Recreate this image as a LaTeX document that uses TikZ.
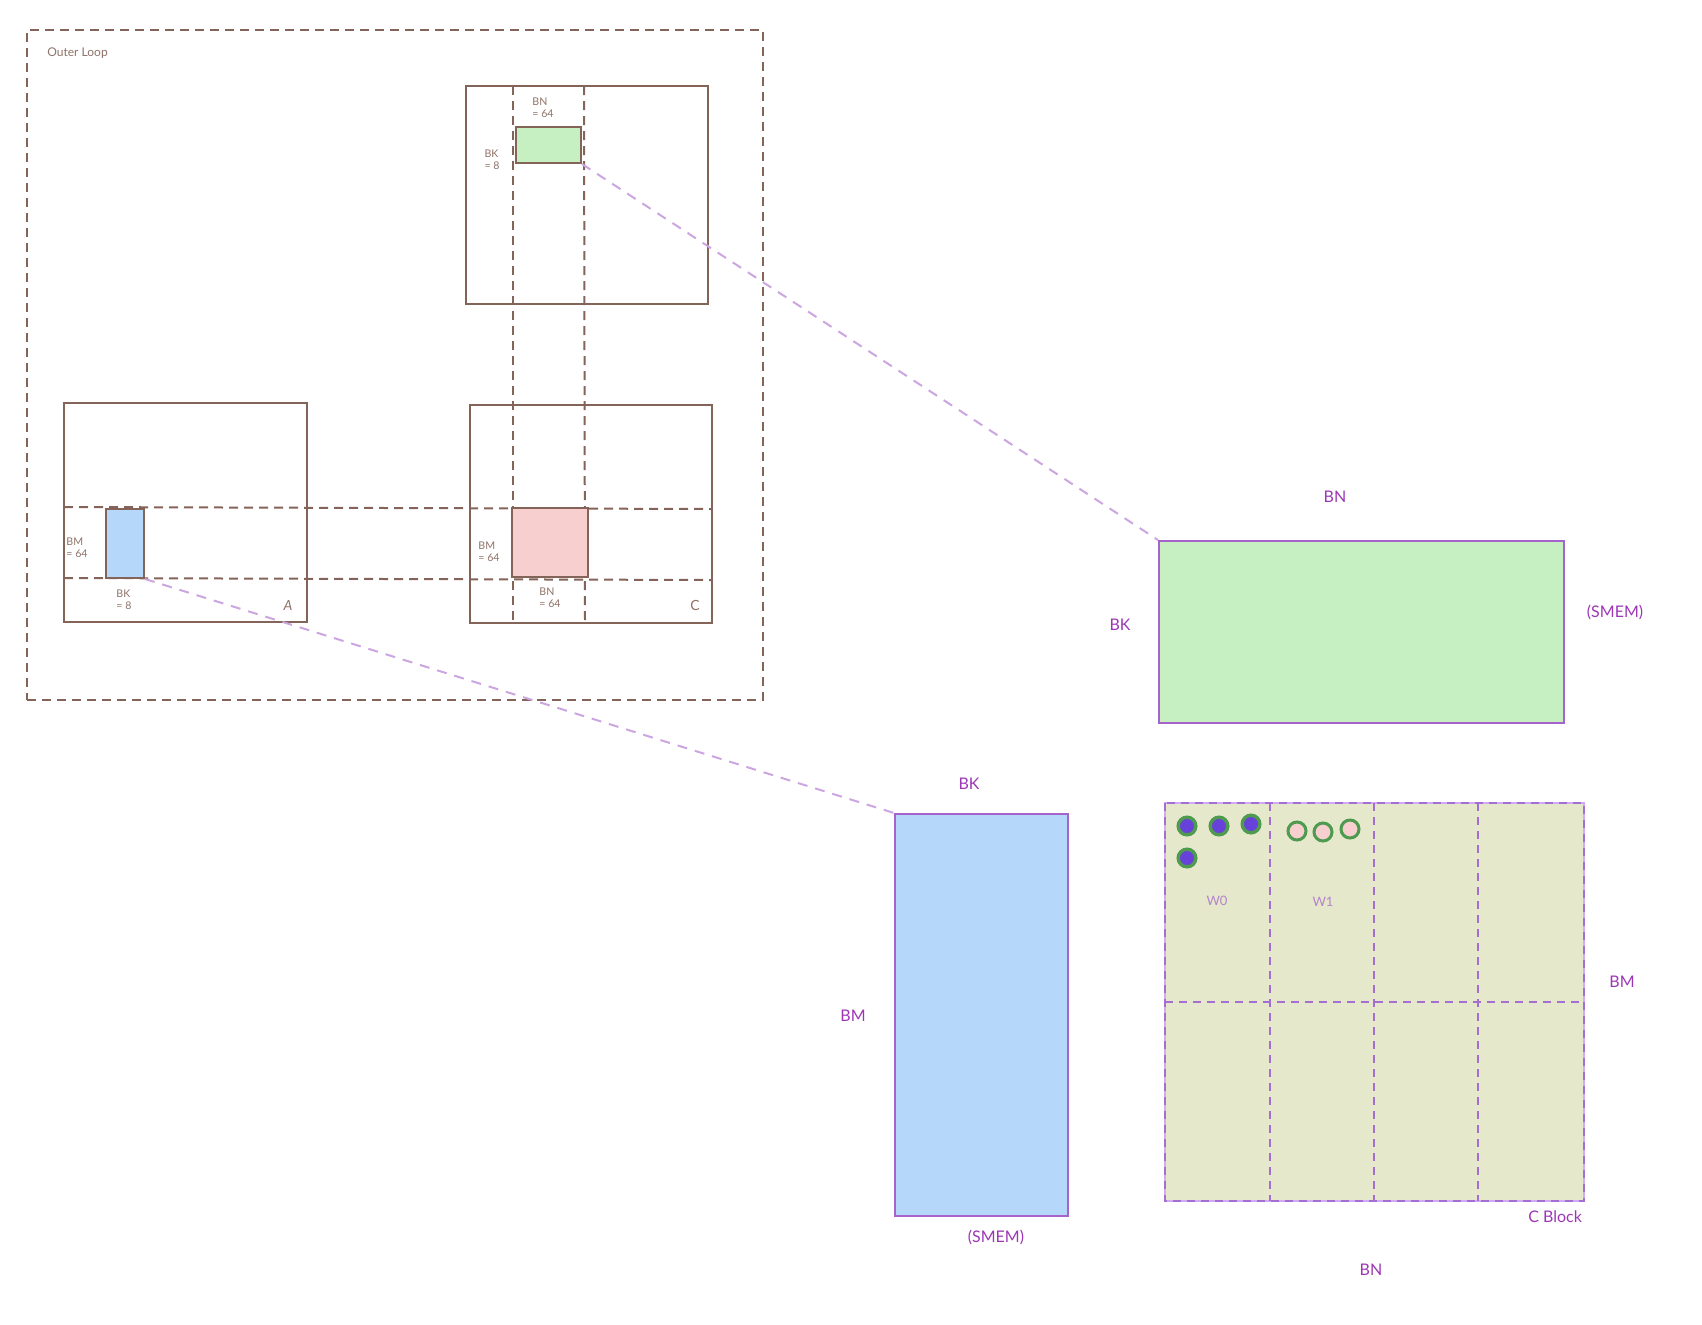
\documentclass[tikz,border=0pt]{standalone}
\usepackage{fontspec}
\setmainfont{Lato}
\usetikzlibrary{fit}
\definecolor{brn}{HTML}{846358}
\definecolor{brnT}{HTML}{8E7268}
\definecolor{vio}{HTML}{9C36B5}
\definecolor{vioB}{HTML}{A763CC}
\definecolor{vioL}{HTML}{CBA6E0}
\definecolor{vioG}{HTML}{A46ED2}
\definecolor{vioO}{HTML}{CFAAF0}
\definecolor{vioW}{HTML}{B483CC}
\definecolor{gfill}{HTML}{C6F0C2}
\definecolor{bfill}{HTML}{B5D8FA}
\definecolor{pfill}{HTML}{F7CFCF}
\definecolor{ofill}{HTML}{E6E8CC}
\definecolor{dotc}{HTML}{6741D9}
\definecolor{dotring}{HTML}{4E9A4E}
\begin{document}
\begin{tikzpicture}[x=0.5pt,y=-0.5pt,
  brbox/.style={draw=brn, line width=1pt, inner sep=0pt},
  brdash/.style={draw=brn, line width=1pt, dash pattern=on 4.5pt off 3pt},
  conn/.style={draw=vioL, line width=1pt, dash pattern=on 5pt off 4pt},
  bigbox/.style={draw=vioB, line width=1pt, inner sep=0pt},
  griddash/.style={draw=vioG, line width=0.9pt, dash pattern=on 4pt off 3pt},
  lbl/.style={text=vio, font=\fontsize{8}{9}\selectfont},
  slbl/.style={text=brnT, font=\fontsize{5.3}{5.9}\selectfont, align=left, inner sep=0pt},
  wlbl/.style={text=vioW, font=\fontsize{6.5}{7}\selectfont},
  dotp/.style={circle, draw=dotring, fill=dotc, line width=1.7pt, minimum size=8.8pt, inner sep=0pt},
  dotk/.style={circle, draw=dotring, fill=pfill, line width=1.5pt, minimum size=9pt, inner sep=0pt}
]
\useasboundingbox (0,0) rectangle (1702,1324);

% outer loop frame
\node[brdash, inner sep=0pt, fit={(27,30) (763,700)}] (outer) {};
\node[text=brnT, font=\fontsize{6}{7}\selectfont, anchor=west, inner sep=0pt] (outerlbl) at (47,53) {Outer Loop};

% matrices A, B, C
\node[brbox, fit={(466,86) (708,304)}] (B) {};
\node[brbox, fit={(64,403) (307,622)}] (A) {};
\node[brbox, fit={(470,405) (712,623)}] (C) {};

% guide lines
\coordinate (v1t) at (513,86);  \coordinate (v1b) at (513,623);
\coordinate (v2t) at (584,86);  \coordinate (v2b) at (585,623);
\coordinate (h1l) at (64,507);  \coordinate (h1r) at (712,509);
\coordinate (h2l) at (64,578);  \coordinate (h2r) at (712,580);
\draw[brdash] (v1t) -- (v1b);
\draw[brdash] (v2t) -- (v2b);
\draw[brdash] (h1l) -- (h1r);
\draw[brdash] (h2l) -- (h2r);

% tiles
\node[brbox, fill=gfill, fit={(516,127) (581,163)}] (gs) {};
\node[brbox, fill=bfill, fit={(106,509) (144,578)}] (bs) {};
\node[brbox, fill=pfill, fit={(512,508) (588,577)}] (ps) {};

% small labels
\node[slbl] (lbn1) at (543,108) {BN\\= 64};
\node[slbl] (lbk1) at (492,160) {BK\\= 8};
\node[slbl] (lbm2) at (77,548) {BM\\= 64};
\node[slbl] (lbk2) at (124,600) {BK\\= 8};
\node[text=brnT, font=\fontsize{7}{8}\selectfont\itshape] (lA) at (288,605) {A};
\node[slbl] (lbm3) at (489,552) {BM\\= 64};
\node[slbl] (lbn3) at (550,598) {BN\\= 64};
\node[text=brnT, font=\fontsize{7}{8}\selectfont] (lC) at (695,605) {C};

% big SMEM tiles
\node[bigbox, fill=gfill, fit={(1159,541) (1564,723)}] (gb) {};
\node[bigbox, fill=bfill, fit={(895,814) (1068,1216)}] (bb) {};

% connectors
\draw[conn] (gs.south east) -- (gb.north west);
\draw[conn] (bs.south east) -- (bb.north west);

% big labels
\node[lbl] (tbn1) at (1335,497) {BN};
\node[lbl] (tbk1) at (1120,625) {BK};
\node[lbl] (tsm1) at (1615,612) {(SMEM)};
\node[lbl] (tbk2) at (969,784) {BK};
\node[lbl] (tbm2) at (853,1016) {BM};
\node[lbl] (tsm2) at (996,1237) {(SMEM)};

% C block grid
\node[draw=vioO, line width=1pt, fill=ofill, inner sep=0pt, fit={(1165,803) (1584,1201)}] (cb) {};
\draw[griddash] (1165,803) rectangle (1584,1201);
\foreach \x in {1270,1374,1478} \draw[griddash] (\x,803) -- (\x,1201);
\draw[griddash] (1165,1002) -- (1584,1002);

% threads
\node[dotp] (d1) at (1187,826) {};
\node[dotp] (d2) at (1219,826) {};
\node[dotp] (d3) at (1251,824) {};
\node[dotp] (d4) at (1187,858) {};
\node[dotk] (k1) at (1297,831) {};
\node[dotk] (k2) at (1323,832) {};
\node[dotk] (k3) at (1350,829) {};

\node[wlbl] (w0) at (1217,901) {W0};
\node[wlbl] (w1) at (1323,902) {W1};

\node[lbl] (tbm3) at (1622,982) {BM};
\node[lbl, anchor=east] (tcb) at (1589,1217) {C Block};
\node[lbl] (tbn3) at (1371,1270) {BN};
\end{tikzpicture}
\end{document}
